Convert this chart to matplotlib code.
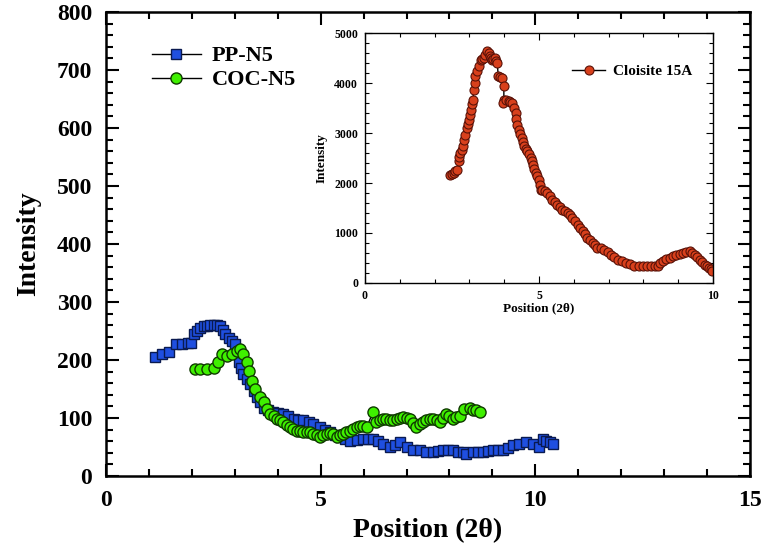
import matplotlib
matplotlib.use("Agg")
import matplotlib.pyplot as plt
from matplotlib.ticker import MultipleLocator

plt.rcParams['font.family'] = ['Liberation Serif', 'DejaVu Serif']
plt.rcParams['font.weight'] = 'bold'

# PP-N5 (blue squares)
pp_x = [1.13, 1.31, 1.46, 1.62, 1.77, 1.90, 1.97, 2.04, 2.12, 2.20, 2.28, 2.35, 2.43,
        2.51, 2.58, 2.66, 2.72, 2.78, 2.86, 2.93, 3.01, 3.05, 3.09, 3.15, 3.20, 3.28,
        3.36, 3.44, 3.51, 3.59, 3.67, 3.78, 3.90, 4.01, 4.13, 4.25, 4.37, 4.48, 4.60,
        4.72, 4.83, 4.98, 5.10, 5.22, 5.34, 5.45, 5.57, 5.68, 5.84, 5.99, 6.10, 6.22,
        6.34, 6.46, 6.61, 6.72, 6.84, 7.00, 7.15, 7.31, 7.46, 7.62, 7.74, 7.85, 7.97,
        8.08, 8.20, 8.31, 8.39, 8.54, 8.66, 8.78, 8.90, 9.01, 9.12, 9.24, 9.36, 9.47,
        9.63, 9.78, 9.94, 10.09, 10.17, 10.25, 10.33, 10.40]
pp_y = [205, 210, 213, 227, 228, 229, 230, 244, 250, 256, 258, 259, 260,
        261, 260, 259, 252, 244, 238, 233, 227, 212, 196, 186, 176, 167,
        158, 147, 136, 127, 118, 114, 110, 108, 107, 103, 99, 97, 96,
        93, 90, 84, 80, 76, 71, 67, 64, 61, 62, 64, 64, 64,
        60, 55, 50, 54, 58, 50, 44, 44, 41, 41, 43, 44, 45,
        44, 42, 41, 38, 41, 42, 41, 43, 44, 45, 44, 49, 53,
        56, 59, 56, 50, 64, 61, 58, 56]

# COC-N5 (green circles)
coc_x = [2.08, 2.20, 2.35, 2.51, 2.62, 2.70, 2.82, 2.93, 3.05, 3.13, 3.20, 3.28,
         3.32, 3.40, 3.48, 3.59, 3.67, 3.75, 3.83, 3.91, 3.98, 4.06, 4.13, 4.21,
         4.29, 4.36, 4.44, 4.52, 4.60, 4.68, 4.75, 4.83, 4.91, 4.98, 5.06, 5.14,
         5.21, 5.29, 5.37, 5.45, 5.53, 5.60, 5.68, 5.76, 5.84, 5.91, 5.99, 6.07,
         6.22, 6.30, 6.38, 6.46, 6.53, 6.61, 6.69, 6.77, 6.84, 6.92, 7.00, 7.07,
         7.15, 7.23, 7.31, 7.38, 7.46, 7.54, 7.62, 7.70, 7.77, 7.85, 7.93, 8.00,
         8.08, 8.16, 8.24, 8.35, 8.47, 8.54, 8.62, 8.70]
coc_y = [184, 184, 184, 187, 196, 210, 207, 210, 216, 219, 210, 196,
         181, 164, 150, 136, 127, 115, 107, 103, 99, 96, 93, 88,
         84, 81, 78, 77, 76, 76, 76, 73, 70, 67, 70, 73,
         74, 73, 67, 70, 73, 76, 78, 81, 84, 86, 87, 84,
         110, 93, 96, 99, 98, 96, 97, 99, 100, 101, 100, 99,
         92, 84, 90, 93, 96, 98, 99, 96, 93, 100, 107, 103,
         99, 101, 104, 116, 118, 113, 114, 110]

# Cloisite 15A (inset, red circles)
cl_x = [2.45, 2.50, 2.55, 2.60, 2.64, 2.69, 2.71, 2.74, 2.78, 2.81, 2.85, 2.88,
        2.93, 2.96, 3.00, 3.03, 3.06, 3.08, 3.10, 3.13, 3.15, 3.17, 3.22, 3.27,
        3.32, 3.37, 3.41, 3.46, 3.51, 3.55, 3.58, 3.62, 3.65, 3.69, 3.73, 3.77,
        3.80, 3.83, 3.87, 3.94, 3.99, 3.99, 3.96, 4.04, 4.13, 4.18, 4.23, 4.28,
        4.33, 4.35, 4.38, 4.42, 4.46, 4.50, 4.53, 4.57, 4.62, 4.66, 4.71, 4.76,
        4.80, 4.83, 4.86, 4.90, 4.95, 5.00, 5.02, 5.05, 5.10, 5.17, 5.24, 5.31,
        5.38, 5.45, 5.53, 5.60, 5.67, 5.74, 5.82, 5.89, 5.96, 6.03, 6.11, 6.18,
        6.25, 6.32, 6.39, 6.46, 6.54, 6.61, 6.68, 6.78, 6.88, 6.97, 7.07, 7.16,
        7.26, 7.38, 7.50, 7.62, 7.74, 7.86, 7.98, 8.10, 8.22, 8.32, 8.41, 8.49,
        8.56, 8.65, 8.75, 8.85, 8.94, 9.04, 9.13, 9.23, 9.33, 9.40, 9.47, 9.55,
        9.62, 9.69, 9.76, 9.82, 9.88, 9.93, 9.98]
cl_y = [2167, 2180, 2200, 2230, 2267, 2433, 2520, 2600, 2650, 2733, 2850, 2967,
        3100, 3180, 3267, 3350, 3467, 3570, 3667, 3867, 4000, 4133, 4250, 4333,
        4467, 4480, 4500, 4560, 4633, 4600, 4533, 4500, 4467, 4480, 4500, 4450,
        4400, 4133, 4120, 4100, 3933, 3667, 3600, 3650, 3633, 3620, 3600, 3500,
        3400, 3280, 3167, 3067, 2980, 2900, 2820, 2733, 2680, 2633, 2570, 2500,
        2430, 2367, 2280, 2200, 2130, 2067, 1950, 1867, 1850, 1830, 1800, 1730,
        1667, 1620, 1567, 1520, 1467, 1440, 1400, 1350, 1300, 1240, 1167, 1100,
        1033, 970, 900, 850, 800, 750, 700, 690, 667, 620, 567, 510,
        467, 430, 400, 370, 333, 340, 333, 330, 333, 340, 333, 390,
        433, 470, 500, 530, 567, 580, 600, 620, 633, 600, 567, 510,
        467, 420, 367, 330, 300, 270, 233]

fig = plt.figure(figsize=(7.64, 5.52), dpi=100)

# main axes
ax = fig.add_axes([106/764, 1 - 476/552, 644/764, 464/552])
ax.plot(pp_x, pp_y, color='black', lw=1, marker='s', ms=7.5,
        mfc='#1f4fe0', mec='#0a1a50', mew=1, label='PP-N5')
ax.plot(coc_x, coc_y, color='black', lw=1, marker='o', ms=8,
        mfc='#3ff000', mec='#0f3a00', mew=1, label='COC-N5')
ax.set_xlim(0, 15)
ax.set_ylim(0, 800)
ax.xaxis.set_major_locator(MultipleLocator(5))
ax.xaxis.set_minor_locator(MultipleLocator(1))
ax.yaxis.set_major_locator(MultipleLocator(100))
ax.yaxis.set_minor_locator(MultipleLocator(20))
ax.tick_params(which='both', direction='in', top=True, right=True, width=1.5)
ax.tick_params(which='major', length=9, labelsize=17, pad=10)
ax.tick_params(which='minor', length=5)
for s in ax.spines.values():
    s.set_linewidth(1.8)
ax.set_xlabel('Position (2θ)', fontsize=20, fontweight='bold', labelpad=5)
ax.set_ylabel('Intensity', fontsize=20, fontweight='bold', labelpad=11)
ax.legend(loc='upper left', bbox_to_anchor=(0.04, 0.97), frameon=False,
          prop={'size': 16, 'weight': 'bold'}, handlelength=2.2,
          handletextpad=0.5, labelspacing=0.15)

# inset
ins = fig.add_axes([365/764, 1 - 283/552, 348/764, 250/552])
ins.plot(cl_x, cl_y, color='black', lw=1, marker='o', ms=6.5,
         mfc='#d8401c', mec='#5a1208', mew=0.8, label='Cloisite 15A')
ins.set_xlim(0, 10)
ins.set_ylim(0, 5000)
ins.xaxis.set_major_locator(MultipleLocator(5))
ins.xaxis.set_minor_locator(MultipleLocator(1))
ins.yaxis.set_major_locator(MultipleLocator(1000))
ins.yaxis.set_minor_locator(MultipleLocator(200))
ins.tick_params(which='both', direction='in', top=True, right=True, width=0.8)
ins.tick_params(which='major', length=5, labelsize=8.5, pad=5)
ins.tick_params(which='minor', length=3)
for s in ins.spines.values():
    s.set_linewidth(1)
ins.set_xlabel('Position (2θ)', fontsize=9.5, fontweight='bold', labelpad=0)
ins.set_ylabel('Intensity', fontsize=9.5, fontweight='bold', labelpad=5)
ins.legend(loc='upper right', bbox_to_anchor=(0.98, 0.93), frameon=False,
           prop={'size': 11, 'weight': 'bold'}, handlelength=2.2,
           handletextpad=0.5)

fig.savefig('out.png', dpi=100)
